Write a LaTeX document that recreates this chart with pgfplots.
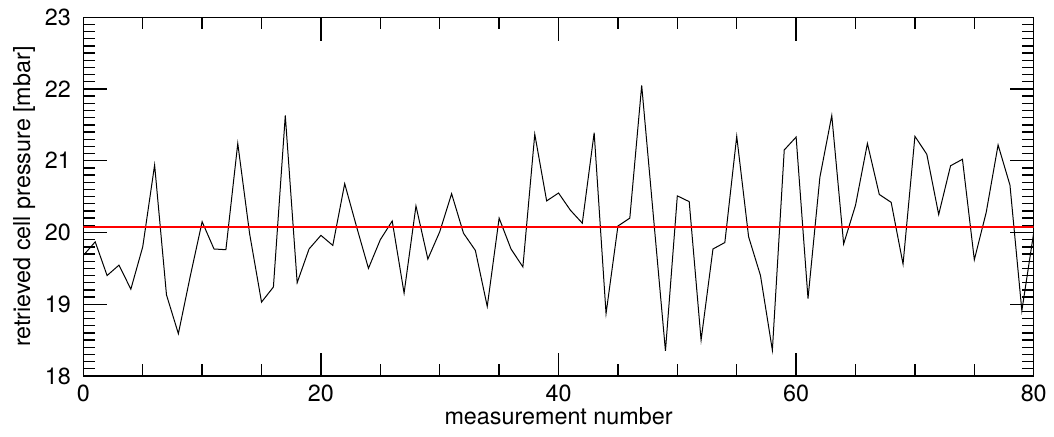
\documentclass[border=0pt]{standalone}
\usepackage{pgfplots}
\pgfplotsset{compat=1.18}
\usepackage{fontspec}
\setmainfont{TeX Gyre Heros}
\begin{document}
\fontsize{17.5}{21}\selectfont
\begin{tikzpicture}[font=\fontsize{17.5}{21}\selectfont]
\begin{axis}[
  at={(0,0)}, anchor=south west,
  scale only axis,
  width=712.8pt, height=269.1pt,
  xmin=0, xmax=80, ymin=18, ymax=23,
  xtick={0,20,40,60,80}, ytick={18,19,20,21,22,23},
  minor x tick num=3, minor y tick num=9,
  tick align=inside,
  major tick length=17.5pt, minor tick length=9pt,
  tick style={black, line width=1pt},
  axis line style={line width=1pt},
  /pgf/number format/assume math mode=true,
  yticklabel style={anchor=east, inner sep=0pt, xshift=-9.2pt, font=\fontsize{17.5}{21}\selectfont},
  xticklabel style={anchor=north, inner sep=0pt, yshift=-6.75pt, font=\fontsize{17.5}{21}\selectfont},
  xlabel={measurement number},
  ylabel={retrieved cell pressure [mbar]},
  every axis x label/.style={at={(axis description cs:0.5,-0.1338)}, anchor=base, font=\fontsize{17.5}{21}\selectfont},
  every axis y label/.style={at={(axis description cs:-0.0561,0.5)}, rotate=90, anchor=base, font=\fontsize{17.5}{21}\selectfont},
  clip=true,
]
\addplot[black, line width=0.75pt] coordinates {
(0,19.68) (1,19.87) (2,19.40) (3,19.545) (4,19.21) (5,19.80) (6,20.94) (7,19.13) (8,18.59) (9,19.39)
(10,20.15) (11,19.77) (12,19.76) (13,21.24) (14,19.98) (15,19.03) (16,19.24) (17,21.63) (18,19.30) (19,19.77)
(20,19.96) (21,19.82) (22,20.68) (23,20.08) (24,19.50) (25,19.90) (26,20.16) (27,19.155) (28,20.37) (29,19.63)
(30,20.01) (31,20.54) (32,19.99) (33,19.75) (34,18.97) (35,20.20) (36,19.77) (37,19.52) (38,21.37) (39,20.44)
(40,20.55) (41,20.31) (42,20.13) (43,21.39) (44,18.87) (45,20.09) (46,20.20) (47,22.05) (48,20.20) (49,18.35)
(50,20.51) (51,20.43) (52,18.50) (53,19.77) (54,19.86) (55,21.34) (56,19.94) (57,19.40) (58,18.36) (59,21.15)
(60,21.33) (61,19.08) (62,20.77) (63,21.63) (64,19.84) (65,20.38) (66,21.24) (67,20.53) (68,20.42) (69,19.56)
(70,21.34) (71,21.09) (72,20.25) (73,20.93) (74,21.02) (75,19.62) (76,20.28) (77,21.22) (78,20.66) (79,18.91)
(80,20.00)
};
\addplot[red, line width=1.8pt] coordinates {(0,20.08) (80,20.08)};
\end{axis}
\pgfresetboundingbox
\path[use as bounding box] (-62.5pt,-45pt) rectangle (728pt,282pt);
\end{tikzpicture}
\end{document}
